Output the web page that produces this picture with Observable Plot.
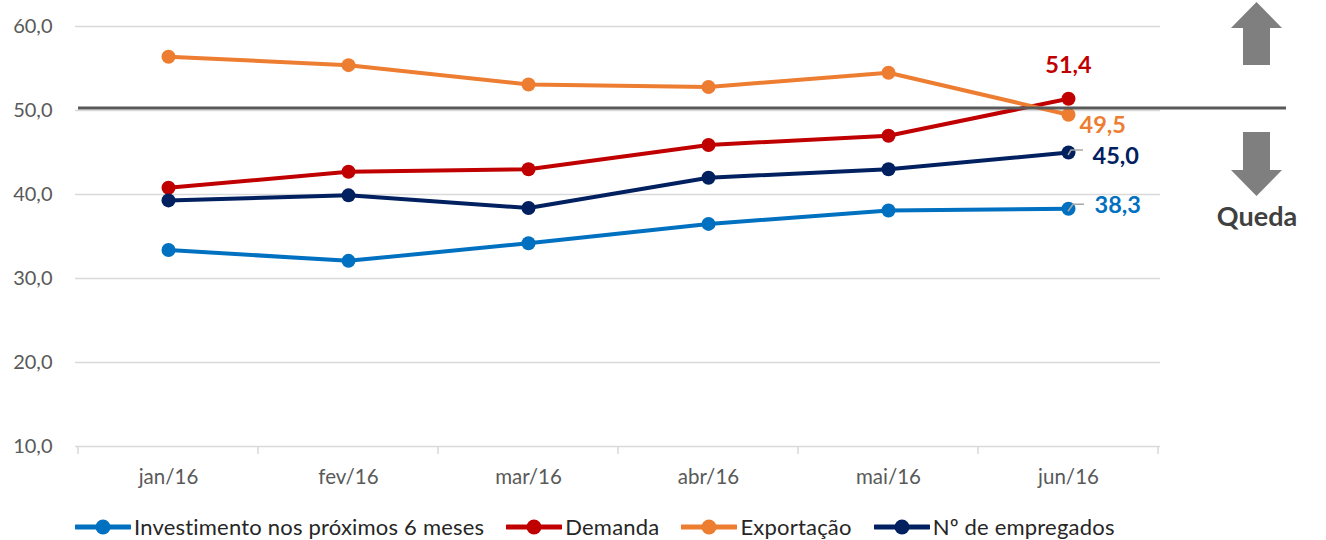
<!DOCTYPE html>
<html><head><meta charset="utf-8">
<script src="https://cdn.jsdelivr.net/npm/d3@7"></script>
<script src="https://cdn.jsdelivr.net/npm/@observablehq/plot@0.6"></script>
<style>
body{margin:0;background:#fff;font-family:Lato,"Open Sans",sans-serif;}
#wrap{position:relative;width:1326px;height:540px;overflow:hidden;}
#legend{position:absolute;left:75px;top:515px;display:flex;align-items:center;font-size:22px;letter-spacing:0.2px;color:#262626;white-space:nowrap;line-height:24px;}
.item{display:flex;align-items:center;margin-right:22px;}
.item svg{margin-right:3px;}
</style></head><body><div id="wrap"></div>
<script>
const months = ["jan/16","fev/16","mar/16","abr/16","mai/16","jun/16"];
const seriesNames = ["Investimento nos próximos 6 meses","Demanda","Exportação","Nº de empregados"];
const seriesColors = ["#0070C0","#C00000","#ED7D31","#002060"];
const investimento = [33.4,32.1,34.2,36.5,38.1,38.3];
const demanda = [40.8,42.7,43.0,45.9,47.0,51.4];
const exportacao = [56.4,55.4,53.1,52.8,54.5,49.5];
const empregados = [39.3,39.9,38.4,42.0,43.0,45.0];
const yTicks = [10,20,30,40,50,60];
const referenceValue = 50;
const downLabel = "Queda";

const seriesValues = [investimento, demanda, exportacao, empregados];
const data = [];
seriesNames.forEach((s, i) => months.forEach((m, j) => data.push({serie: s, month: m, value: seriesValues[i][j]})));
const last = data.filter(d => d.month === months[months.length - 1]);
const fmt = v => d3.format(".1f")(v).replace(".", ",");

// label placement per series (style)
const labelStyle = {
  [seriesNames[0]]: {dx: 26, dy: -3, anchor: "start"},
  [seriesNames[1]]: {dx: 0, dy: -33, anchor: "middle"},
  [seriesNames[2]]: {dx: 11, dy: 11, anchor: "start"},
  [seriesNames[3]]: {dx: 24, dy: 4, anchor: "start"}
};

const W = 1326, H = 505, ML = 75, MR = 166, MT = 26, MB = 59;
const color = {domain: seriesNames, range: seriesColors};

const labelMarks = seriesNames.map(s => Plot.text(last.filter(d => d.serie === s), {
  x: "month", y: "value", text: d => fmt(d.value), fill: "serie",
  dx: labelStyle[s].dx, dy: labelStyle[s].dy, textAnchor: labelStyle[s].anchor,
  fontSize: 23.5, fontWeight: "bold"
}));

const plot = Plot.plot({
  width: W, height: H,
  marginLeft: ML, marginRight: MR, marginTop: MT, marginBottom: MB,
  style: {fontFamily: "Lato, 'Open Sans', sans-serif", background: "white"},
  x: {type: "point", domain: months, padding: 0.5, label: null},
  y: {domain: [10, 60], label: null},
  color,
  marks: [
    Plot.ruleY(yTicks, {stroke: "#d9d9d9", strokeWidth: 1.5}),
    Plot.axisY(yTicks, {tickSize: 0, tickPadding: 23, tickFormat: fmt, fontSize: 20, fill: "#595959", label: null}),
    Plot.axisX({tickSize: 0, tickPadding: 23, fontSize: 20.5, fill: "#595959", label: null}),
    Plot.line(data, {x: "month", y: "value", stroke: "serie", strokeWidth: 4, z: "serie"}),
    Plot.dot(data, {x: "month", y: "value", fill: "serie", r: 7}),
    ...labelMarks
  ]
});

const svg = d3.select(plot);
const xs = plot.scale("x"), ys = plot.scale("y");
const xr = months.map(m => xs.apply(m));
const bandStep = xr[1] - xr[0];
const y10 = ys.apply(10);
// x tick marks at category boundaries
const bounds = xr.map(x => x - bandStep / 2).concat([xr[xr.length - 1] + bandStep / 2]);
svg.append("g").selectAll("line").data(bounds).join("line")
  .attr("x1", d => d).attr("x2", d => d).attr("y1", y10).attr("y2", y10 + 8)
  .attr("stroke", "#d9d9d9").attr("stroke-width", 1.5);

// reference line at 50
const yRef = ys.apply(referenceValue) - 2;
svg.append("line").attr("x1", ML + 3).attr("x2", 1286).attr("y1", yRef).attr("y2", yRef)
  .attr("stroke", "#595959").attr("stroke-width", 3);

// leader lines
const xLast = xr[xr.length - 1];
[[empregados[5], 3, -2, 15], [investimento[5], 5, -4, 16]].forEach(([v, a, b, e]) => {
  const y = ys.apply(v);
  svg.append("polyline").attr("points", `${xLast},${y+3} ${xLast+a},${y+b} ${xLast+e},${y+b}`)
    .attr("fill", "none").attr("stroke", "#a6a6a6").attr("stroke-width", 1.5);
});

// arrows
const g = svg.append("g").attr("fill", "#7f7f7f");
g.append("path").attr("d", "M1231,28 L1256.5,2 L1282,28 L1270,28 L1270,65 L1243,65 L1243,28 Z");
g.append("path").attr("d", "M1243,132 L1270,132 L1270,170 L1282,170 L1256.5,196 L1231,170 L1243,170 Z");
svg.append("text").attr("x", 1257).attr("y", 226).attr("text-anchor", "middle")
  .attr("font-size", 27).attr("font-weight", "bold").attr("fill", "#404040").text(downLabel);

const wrap = document.getElementById("wrap");
wrap.appendChild(plot);

// legend
const legend = document.createElement("div");
legend.id = "legend";
seriesNames.forEach((s, i) => {
  const it = document.createElement("div");
  it.className = "item";
  it.innerHTML = `<svg width="56" height="18"><line x1="1" x2="55" y1="9" y2="9" stroke="${seriesColors[i]}" stroke-width="5" stroke-linecap="round"/><circle cx="28" cy="9" r="7.5" fill="${seriesColors[i]}"/></svg><span>${s}</span>`;
  legend.appendChild(it);
});
wrap.appendChild(legend);
</script>
</body></html>
